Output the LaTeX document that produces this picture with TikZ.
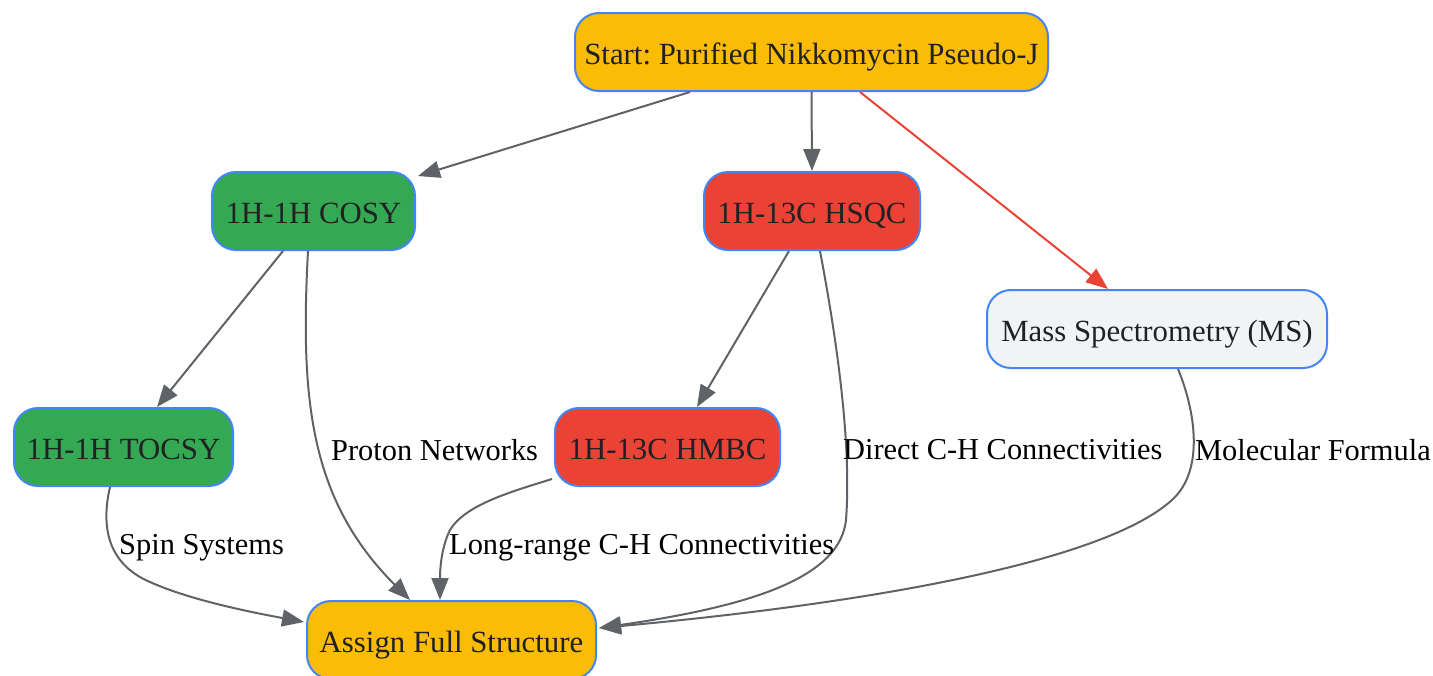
\documentclass[tikz,border=0pt]{standalone}
\usepackage{fontspec}
\setmainfont{Liberation Serif}
\usetikzlibrary{arrows.meta,calc}
\definecolor{gyellow}{HTML}{FBBC05}
\definecolor{ggreen}{HTML}{34A853}
\definecolor{gred}{HTML}{EA4335}
\definecolor{glight}{HTML}{F1F3F4}
\definecolor{gblue}{HTML}{4285F4}
\definecolor{gedge}{HTML}{5F6368}
\definecolor{gtext}{HTML}{202124}
\frenchspacing
\begin{document}
\begin{tikzpicture}[x=1pt,y=-1pt,
  box/.style={draw=gblue,line width=2pt,rounded corners=24pt,minimum height=78pt,inner sep=0pt,
    text height=25pt,text depth=0pt,
    text=gtext,font=\fontsize{30.8}{37}\selectfont},
  conn/.style={draw=gedge,line width=2pt,-{Triangle[length=22pt,width=17pt]}},
  redconn/.style={draw=gred,line width=2pt,-{Triangle[length=22pt,width=17pt]}},
  lab/.style={anchor=west,inner sep=0pt,yshift=-2pt,text=black,font=\fontsize{30.4}{36}\selectfont}]
\useasboundingbox (0,0) rectangle (1433,675);
\node[box,fill=gyellow,minimum width=473pt] (start) at (811.5,52) {Start: Purified Nikkomycin Pseudo-J};
\node[box,fill=ggreen,minimum width=203pt] (cosy) at (313.5,211) {1H-1H COSY};
\node[box,fill=gred,minimum width=216pt] (hsqc) at (812,211) {1H-13C HSQC};
\node[box,fill=glight,minimum width=340pt] (ms) at (1157,329) {Mass Spectrometry (MS)};
\node[box,fill=ggreen,minimum width=219pt] (tocsy) at (123.5,447) {1H-1H TOCSY};
\node[box,fill=gred,minimum width=225pt] (hmbc) at (667.5,447) {1H-13C HMBC};
\node[box,fill=gyellow,minimum width=289pt] (assign) at (451.5,640) {Assign Full Structure};

\draw[conn] ($(start.south)+(-121.5,0)$) -- ($(cosy.north east)+(2,5)$);
\draw[conn] (start.south) -- (hsqc.north);
\draw[redconn] ($(start.south)+(48.5,0)$) -- ($(ms.north)+(-49,0)$);
\draw[conn] ($(cosy.south)+(-30.5,0)$) -- ($(tocsy.north)+(33.5,0)$);
\draw[conn] ($(hsqc.south)+(-23,0)$) -- ($(hmbc.north)+(29.5,0)$);

\draw[conn] ($(cosy.south)+(-5.5,0)$) .. controls (300,400) and (310,500) .. ($(assign.north)+(-41.5,0)$);
\draw[conn] ($(hsqc.south)+(8,0)$) .. controls (835,330) and (852,440) .. (846,520)
   .. controls (840,575) and (760,605) .. ($(assign.east)+(2,-12)$);
\draw[conn] ($(ms.south)+(21,0)$) .. controls (1195,410) and (1205,470) .. (1172,500)
   .. controls (1100,565) and (850,605) .. ($(assign.east)+(2,-12)$);
\draw[conn] ($(tocsy.south)+(-13.5,0)$) .. controls (100,530) and (110,565) .. (150,582)
   .. controls (190,600) and (250,612) .. ($(assign.west)+(-2,-18)$);
\draw[conn] ($(hmbc.south west)+(-2,-8)$) .. controls (510,492) and (465,505) .. (450,530)
   .. controls (440,550) and (440,575) .. ($(assign.north)+(-11.5,0)$);

\node[lab] (l1) at (331,448) {Proton Networks};
\node[lab] (l2) at (843,448) {Direct C-H Connectivities};
\node[lab] (l3) at (1195,448) {Molecular Formula};
\node[lab] (l4) at (119,546) {Spin Systems};
\node[lab] (l5) at (449,546) {Long-range C-H Connectivities};
\end{tikzpicture}
\end{document}
